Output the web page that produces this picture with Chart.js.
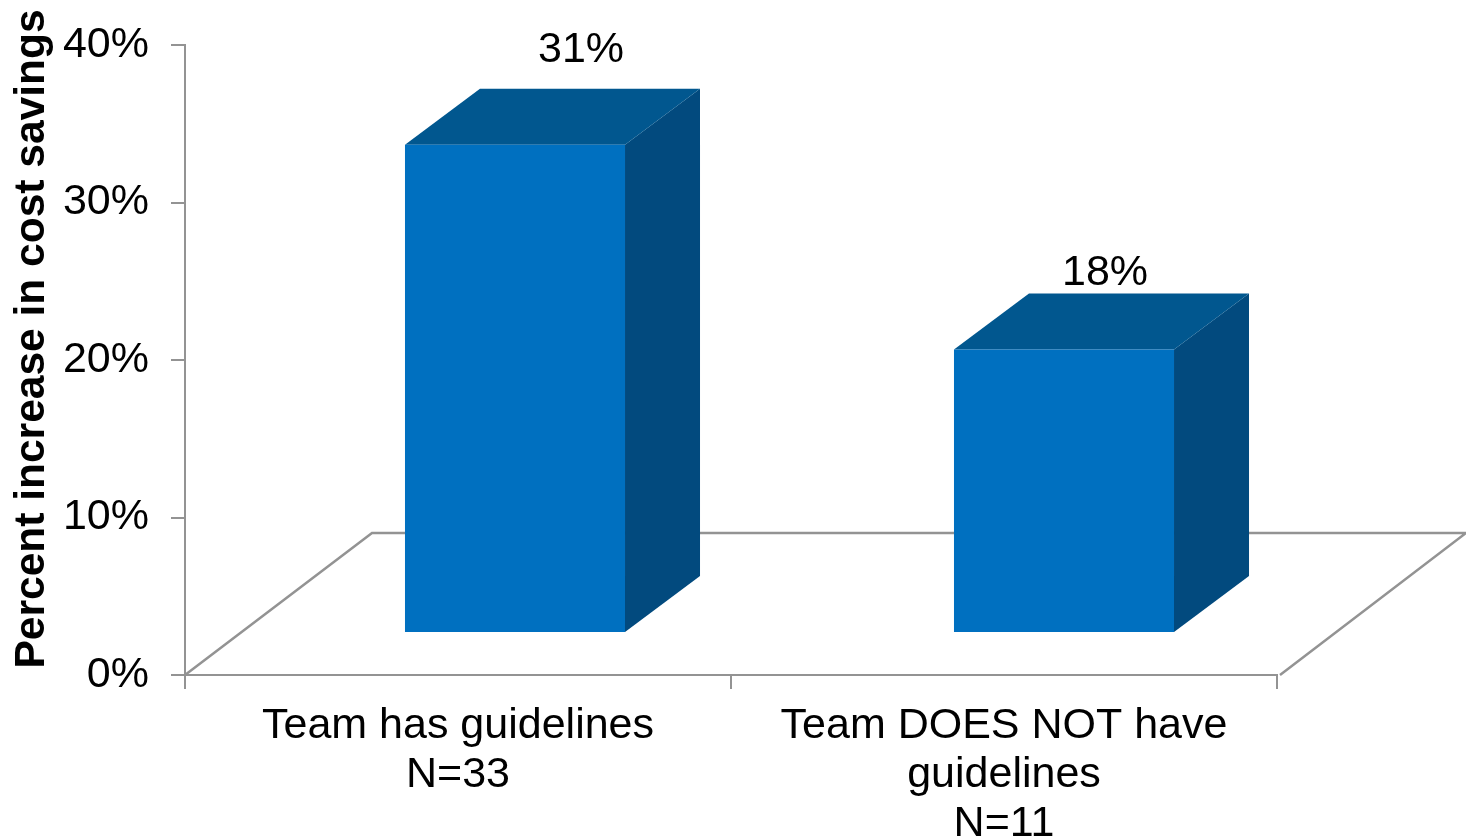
<!DOCTYPE html>
<html>
<head>
<meta charset="utf-8">
<style>
html, body { margin: 0; padding: 0; background: #fff; }
#wrap { width: 1466px; height: 839px; }
</style>
<script src="https://cdn.jsdelivr.net/npm/chart.js@4"></script>
</head>
<body>
<div id="wrap"><canvas id="chart"></canvas></div>
<script>
const categories = [['Team has guidelines', 'N=33'], ['Team DOES NOT have', 'guidelines', 'N=11']];
const savings = [31, 18];
const valueTicks = [0, 10, 20, 30, 40];
const axisTitle = 'Percent increase in cost savings';

const FONT = '"Liberation Sans", Arial, sans-serif';
const AXIS = '#939393';
// fake 3d: how far the floor and the bars are pushed back
const floorDx = 187, floorDy = 142;
const barDx = 57, barStep = 3, barLift = 42, depthDx = 75, depthDy = 56;
const labelShift = [[66, -39], [41, -20]];

const fake3d = {
    id: 'fake3d',
    beforeDatasetsDraw(chart) {
        const { ctx, chartArea: a } = chart;
        ctx.save();
        ctx.strokeStyle = AXIS;
        ctx.lineWidth = 2.5;
        ctx.beginPath();
        ctx.moveTo(a.left, a.bottom);
        ctx.lineTo(a.left + floorDx, a.bottom - floorDy);
        ctx.lineTo(a.right + floorDx + 2, a.bottom - floorDy);
        ctx.lineTo(a.right + 3, a.bottom);
        ctx.stroke();
        ctx.restore();
    },
    afterDatasetsDraw(chart) {
        const { ctx } = chart;
        const meta = chart.getDatasetMeta(0);
        ctx.save();
        meta.data.forEach((bar, i) => {
            const w = bar.width;
            const l = bar.x - w / 2 + barDx + barStep * i;
            const r = l + w;
            const t = bar.y - barLift;
            const b = bar.base - barLift;
            // side
            ctx.fillStyle = '#024a7e';
            ctx.beginPath();
            ctx.moveTo(r, t);
            ctx.lineTo(r + depthDx, t - depthDy);
            ctx.lineTo(r + depthDx, b - depthDy);
            ctx.lineTo(r, b);
            ctx.closePath();
            ctx.fill();
            // top
            ctx.fillStyle = '#01578f';
            ctx.beginPath();
            ctx.moveTo(l, t);
            ctx.lineTo(l + depthDx, t - depthDy);
            ctx.lineTo(r + depthDx, t - depthDy);
            ctx.lineTo(r, t);
            ctx.closePath();
            ctx.fill();
            // front
            ctx.fillStyle = '#0070c0';
            ctx.fillRect(l, t, w, b - t);
            // value label
            ctx.fillStyle = '#000';
            ctx.font = '43px ' + FONT;
            ctx.textAlign = 'center';
            ctx.textBaseline = 'middle';
            ctx.fillText(savings[i] + '%', l + w / 2 + labelShift[i][0], t - depthDy + labelShift[i][1]);
        });
        // axis title sits higher than the scale's centre, so it is placed here
        ctx.translate(32, 339);
        ctx.rotate(-Math.PI / 2);
        ctx.fillStyle = '#000';
        ctx.font = 'bold 42.5px ' + FONT;
        ctx.textAlign = 'center';
        ctx.textBaseline = 'middle';
        ctx.fillText(axisTitle, 0, 0);
        ctx.restore();
    }
};

new Chart(document.getElementById('chart').getContext('2d'), {
    type: 'bar',
    data: {
        labels: categories,
        datasets: [{
            data: savings,
            backgroundColor: 'rgba(0,0,0,0)',
            barPercentage: 0.403,
            categoryPercentage: 1
        }]
    },
    plugins: [fake3d],
    options: {
        responsive: true,
        maintainAspectRatio: false,
        animation: false,
        layout: { padding: { top: 45, right: 189 } },
        plugins: { legend: { display: false }, tooltip: { enabled: false } },
        scales: {
            x: {
                grid: { display: true, drawOnChartArea: false, color: AXIS, lineWidth: 2, tickLength: 14, offset: true },
                border: { color: AXIS, width: 2 },
                ticks: { color: '#000', font: { family: FONT, size: 43, lineHeight: 1.15 }, maxRotation: 0, autoSkip: false, padding: 12 },
                afterFit(scale) { scale.height = 164; }
            },
            y: {
                min: 0,
                max: 40,
                afterBuildTicks(scale) { scale.ticks = valueTicks.map(v => ({ value: v })); },
                grid: { display: true, drawOnChartArea: false, color: AXIS, lineWidth: 2, tickLength: 14 },
                border: { color: AXIS, width: 2 },
                ticks: { color: '#000', font: { family: FONT, size: 43 }, padding: 22, callback: v => v + '%' },
                afterFit(scale) {
                    scale.width = 185;
                    // tick padding would otherwise push the plot top down
                    scale.paddingTop = 0;
                    scale.paddingBottom = 0;
                }
            }
        }
    }
});
</script>
</body>
</html>
